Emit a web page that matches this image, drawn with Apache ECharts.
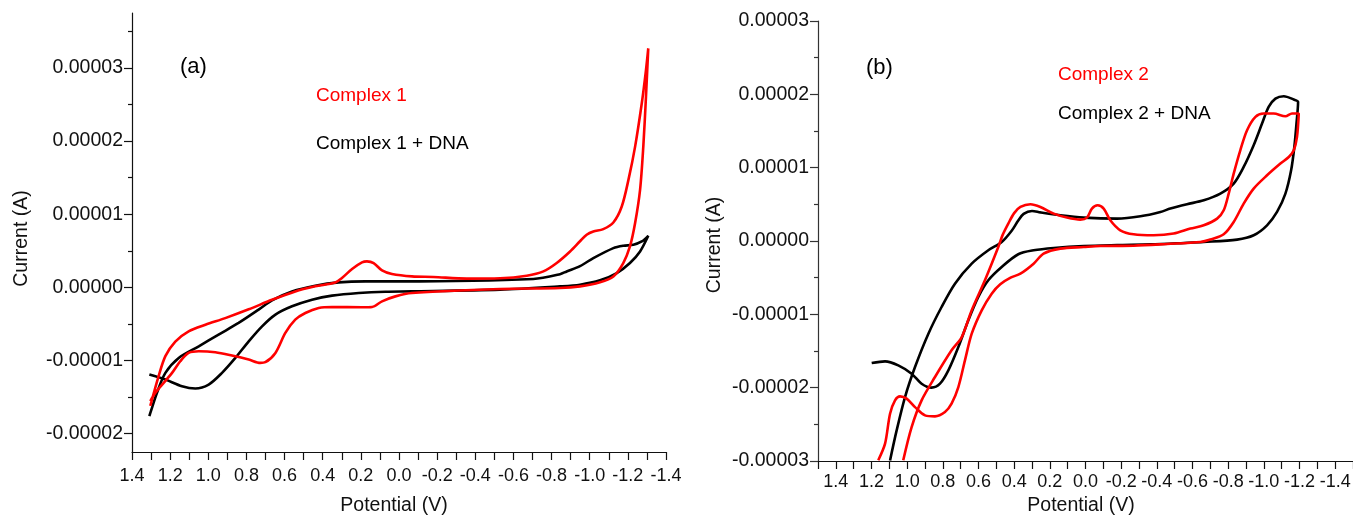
<!DOCTYPE html>
<html>
<head>
<meta charset="utf-8">
<title>Cyclic voltammograms</title>
<script src="https://cdn.jsdelivr.net/npm/echarts@6/dist/echarts.min.js"></script>
<style>
  html, body { margin: 0; padding: 0; background: #fff; }
  #main { width: 1353px; height: 515px; }
</style>
</head>
<body>
<div id="main"></div>
<script>
// [potential (V), current (A)] read along each scan loop
var complex1 = [
  [1.304,-1.62e-5],[1.26,-1.21e-5],[1.225,-0.94e-5],[1.173,-0.74e-5],[1.103,-0.60e-5],[1.015,-0.51e-5],
  [0.911,-0.42e-5],[0.788,-0.30e-5],[0.666,-0.17e-5],[0.544,-0.055e-5],[0.439,0.014e-5],[0.334,0.068e-5],
  [0.299,0.128e-5],[0.246,0.251e-5],[0.194,0.341e-5],[0.168,0.355e-5],[0.133,0.332e-5],[0.089,0.232e-5],
  [0.037,0.183e-5],[-0.068,0.15e-5],[-0.18,0.142e-5],[-0.355,0.12e-5],[-0.53,0.125e-5],[-0.67,0.16e-5],
  [-0.757,0.218e-5],[-0.827,0.333e-5],[-0.897,0.49e-5],[-0.949,0.63e-5],[-0.984,0.72e-5],[-1.019,0.764e-5],
  [-1.071,0.797e-5],[-1.124,0.887e-5],[-1.168,1.105e-5],[-1.203,1.469e-5],[-1.238,1.924e-5],[-1.273,2.516e-5],
  [-1.295,2.97e-5],[-1.307,3.266e-5],[-1.295,2.606e-5],[-1.281,1.924e-5],[-1.264,1.333e-5],[-1.238,0.879e-5],
  [-1.211,0.559e-5],[-1.176,0.333e-5],[-1.124,0.15e-5],[-1.054,0.07e-5],[-0.949,0.014e-5],[-0.844,-0.008e-5],
  [-0.53,-0.022e-5],[-0.068,-0.077e-5],[0.019,-0.123e-5],[0.089,-0.191e-5],[0.141,-0.268e-5],[0.194,-0.272e-5],
  [0.351,-0.268e-5],[0.421,-0.282e-5],[0.491,-0.35e-5],[0.544,-0.441e-5],[0.596,-0.623e-5],[0.648,-0.896e-5],
  [0.701,-1.023e-5],[0.727,-1.032e-5],[0.788,-0.987e-5],[0.876,-0.932e-5],[0.963,-0.887e-5],[1.05,-0.873e-5],
  [1.103,-0.896e-5],[1.147,-1.01e-5],[1.19,-1.169e-5],[1.234,-1.305e-5],[1.278,-1.442e-5],[1.304,-1.555e-5]
];
var complex1Dna = [
  [1.309,-1.191e-5],[1.225,-1.259e-5],[1.138,-1.351e-5],[1.068,-1.382e-5],[0.998,-1.328e-5],[0.928,-1.168e-5],
  [0.858,-0.964e-5],[0.788,-0.737e-5],[0.718,-0.532e-5],[0.648,-0.372e-5],[0.561,-0.259e-5],[0.456,-0.168e-5],
  [0.351,-0.113e-5],[0.211,-0.077e-5],[0.072,-0.059e-5],[-0.068,-0.055e-5],[-0.53,-0.031e-5],[-0.844,0.014e-5],
  [-0.949,0.037e-5],[-1.054,0.096e-5],[-1.142,0.196e-5],[-1.211,0.333e-5],[-1.264,0.491e-5],[-1.307,0.705e-5],
  [-1.273,0.628e-5],[-1.229,0.583e-5],[-1.176,0.569e-5],[-1.124,0.537e-5],[-1.019,0.40e-5],[-0.949,0.29e-5],
  [-0.879,0.218e-5],[-0.844,0.18e-5],[-0.704,0.115e-5],[-0.005,0.082e-5],[0.176,0.082e-5],[0.316,0.068e-5],
  [0.439,0.023e-5],[0.561,-0.055e-5],[0.666,-0.177e-5],[0.736,-0.304e-5],[0.841,-0.486e-5],[0.946,-0.645e-5],
  [1.05,-0.805e-5],[1.155,-0.964e-5],[1.225,-1.168e-5],[1.269,-1.441e-5],[1.309,-1.76e-5]
];
var complex2 = [
  [1.162,-2.99e-5],[1.124,-2.764e-5],[1.096,-2.355e-5],[1.068,-2.173e-5],[1.04,-2.119e-5],[1.003,-2.15e-5],
  [0.956,-2.265e-5],[0.9,-2.378e-5],[0.844,-2.392e-5],[0.788,-2.333e-5],[0.751,-2.219e-5],[0.713,-1.992e-5],
  [0.676,-1.628e-5],[0.638,-1.264e-5],[0.582,-0.945e-5],[0.526,-0.718e-5],[0.478,-0.59e-5],[0.42,-0.5e-5],
  [0.365,-0.445e-5],[0.291,-0.309e-5],[0.235,-0.172e-5],[0.141,-0.104e-5],[0.01,-0.082e-5],[-0.083,-0.068e-5],
  [-0.27,-0.064e-5],[-0.457,-0.041e-5],[-0.644,-0.014e-5],[-0.7,0.019e-5],[-0.775,0.091e-5],[-0.831,0.259e-5],
  [-0.887,0.51e-5],[-0.943,0.715e-5],[-1.018,0.896e-5],[-1.093,1.056e-5],[-1.14,1.146e-5],[-1.168,1.237e-5],
  [-1.186,1.419e-5],[-1.196,1.738e-5],[-1.158,1.738e-5],[-1.121,1.701e-5],[-1.055,1.738e-5],[-0.999,1.738e-5],
  [-0.953,1.692e-5],[-0.906,1.51e-5],[-0.868,1.237e-5],[-0.831,0.919e-5],[-0.803,0.646e-5],[-0.775,0.419e-5],
  [-0.738,0.305e-5],[-0.663,0.214e-5],[-0.588,0.169e-5],[-0.494,0.101e-5],[-0.382,0.078e-5],[-0.27,0.091e-5],
  [-0.195,0.146e-5],[-0.139,0.282e-5],[-0.102,0.442e-5],[-0.068,0.487e-5],[-0.036,0.442e-5],[-0.008,0.319e-5],
  [0.029,0.291e-5],[0.104,0.319e-5],[0.178,0.373e-5],[0.253,0.464e-5],[0.309,0.501e-5],[0.365,0.464e-5],
  [0.4,0.38e-5],[0.433,0.237e-5],[0.465,0.08e-5],[0.489,-0.082e-5],[0.564,-0.536e-5],[0.638,-0.945e-5],
  [0.694,-1.31e-5],[0.751,-1.491e-5],[0.844,-1.855e-5],[0.919,-2.173e-5],[0.975,-2.538e-5],[1.022,-2.99e-5]
];
var complex2Dna = [
  [1.199,-1.664e-5],[1.124,-1.641e-5],[1.05,-1.696e-5],[0.975,-1.809e-5],[0.919,-1.946e-5],[0.863,-2.0e-5],
  [0.816,-1.946e-5],[0.769,-1.764e-5],[0.713,-1.446e-5],[0.657,-1.082e-5],[0.601,-0.764e-5],[0.545,-0.536e-5],
  [0.47,-0.355e-5],[0.377,-0.181e-5],[0.291,-0.127e-5],[0.178,-0.095e-5],[0.01,-0.068e-5],[-0.177,-0.055e-5],
  [-0.364,-0.046e-5],[-0.551,-0.027e-5],[-0.663,-0.014e-5],[-0.85,0.019e-5],[-0.943,0.078e-5],[-1.018,0.214e-5],
  [-1.074,0.396e-5],[-1.121,0.646e-5],[-1.153,0.964e-5],[-1.171,1.282e-5],[-1.183,1.601e-5],[-1.192,1.896e-5],
  [-1.168,1.929e-5],[-1.112,1.974e-5],[-1.065,1.942e-5],[-1.027,1.828e-5],[-0.99,1.601e-5],[-0.943,1.306e-5],
  [-0.887,1.01e-5],[-0.831,0.783e-5],[-0.756,0.646e-5],[-0.663,0.555e-5],[-0.569,0.501e-5],[-0.476,0.442e-5],
  [-0.42,0.396e-5],[-0.308,0.337e-5],[-0.177,0.305e-5],[0.01,0.319e-5],[0.141,0.351e-5],[0.253,0.39e-5],
  [0.3,0.41e-5],[0.347,0.37e-5],[0.377,0.28e-5],[0.414,0.14e-5],[0.47,-0.014e-5],[0.545,-0.127e-5],
  [0.638,-0.309e-5],[0.732,-0.582e-5],[0.807,-0.9e-5],[0.881,-1.264e-5],[0.956,-1.719e-5],[1.012,-2.128e-5],
  [1.059,-2.583e-5],[1.096,-2.992e-5]
];

// tick labels
var xLabels = [1.4, 1.2, 1.0, 0.8, 0.6, 0.4, 0.2, 0.0, -0.2, -0.4, -0.6, -0.8, -1.0, -1.2, -1.4];
var yLabelsA = [-0.00002, -0.00001, 0, 0.00001, 0.00002, 0.00003];
var yMinorA = [-0.000015, -0.000005, 0.000005, 0.000015, 0.000025, 0.000035];

var FONT = "'Liberation Sans', Arial, Helvetica, sans-serif";
var INK = '#111';

function fmtV(v) { return Math.abs(v) < 1e-9 ? '0.0' : v.toFixed(1); }
function fmtA(v) { return Math.abs(v) < 1e-12 ? '0.00000' : v.toFixed(5); }

function xAxisFor(grid, min, max, margin, gap, pad) {
  return {
    type: 'value', gridIndex: grid, min: min, max: max, interval: 0.1, inverse: true,
    splitLine: { show: false },
    axisLine: { onZero: false, lineStyle: { color: INK, width: 1.2 } },
    axisTick: { length: 8, lineStyle: { color: INK, width: 1.2 } },
    axisLabel: { customValues: xLabels, formatter: fmtV, fontSize: 18, color: INK, margin: margin, fontFamily: FONT },
    name: 'Potential (V)', nameLocation: 'middle', nameGap: gap,
    nameTextStyle: { fontSize: 19.5, color: INK, fontFamily: FONT, padding: pad }
  };
}

var chart = echarts.init(document.getElementById('main'), null, { renderer: 'canvas' });

var option = {
  animation: false,
  backgroundColor: '#fff',
  grid: [
    { left: 132, top: 13, width: 534, height: 439, outerBoundsMode: 'none' },
    { left: 818, top: 21, width: 535, height: 440, outerBoundsMode: 'none' }
  ],
  xAxis: [
    xAxisFor(0, -1.4, 1.4, 15, 44, [0, 10, 0, 0]),
    xAxisFor(1, -1.5, 1.5, 12, 35, [0, 9, 0, 0])
  ],
  yAxis: [
    {
      type: 'value', gridIndex: 0, position: 'left', min: -2.25e-5, max: 3.75e-5,
      splitLine: { show: false },
      axisLine: { show: true, onZero: false, lineStyle: { color: INK, width: 1.2 } },
      axisTick: { show: true, length: 8, customValues: yLabelsA, lineStyle: { color: INK, width: 1.2 } },
      axisLabel: { customValues: yLabelsA, formatter: fmtA, fontSize: 19.5, color: INK, margin: 9, fontFamily: FONT },
      name: 'Current (A)', nameLocation: 'middle', nameGap: 100,
      nameTextStyle: { fontSize: 19.5, color: INK, fontFamily: FONT, padding: [0, 12, 0, 0] }
    },
    {
      type: 'value', gridIndex: 0, position: 'left', min: -2.25e-5, max: 3.75e-5,
      splitLine: { show: false },
      axisLine: { show: false, onZero: false },
      axisTick: { show: true, length: 4, customValues: yMinorA, lineStyle: { color: INK, width: 1.2 } },
      axisLabel: { show: false }
    },
    {
      type: 'value', gridIndex: 1, position: 'left', min: -3e-5, max: 3e-5, interval: 1e-5,
      splitLine: { show: false },
      axisLine: { show: true, onZero: false, lineStyle: { color: '#333', width: 1.2 } },
      axisTick: { length: 8, lineStyle: { color: '#333', width: 1.2 } },
      minorTick: { show: true, splitNumber: 2, length: 4, lineStyle: { color: '#333', width: 1.2 } },
      minorSplitLine: { show: false },
      axisLabel: { formatter: fmtA, fontSize: 19.5, color: INK, margin: 9, fontFamily: FONT },
      name: 'Current (A)', nameLocation: 'middle', nameGap: 93,
      nameTextStyle: { fontSize: 19.5, color: INK, fontFamily: FONT, padding: [0, 8, 0, 0] }
    }
  ],
  legend: [
    {
      left: 311, top: 86, orient: 'vertical', padding: 0, icon: 'none',
      itemWidth: 0, itemHeight: 20, itemGap: 28.5, selectedMode: false,
      textStyle: { fontSize: 19, fontFamily: FONT },
      data: [
        { name: 'Complex 1', textStyle: { color: '#ff0000' } },
        { name: 'Complex 1 + DNA', textStyle: { color: '#000' } }
      ]
    },
    {
      left: 1053, top: 65, orient: 'vertical', padding: 0, icon: 'none',
      itemWidth: 0, itemHeight: 20, itemGap: 19, selectedMode: false,
      textStyle: { fontSize: 19, fontFamily: FONT },
      data: [
        { name: 'Complex 2', textStyle: { color: '#ff0000' } },
        { name: 'Complex 2 + DNA', textStyle: { color: '#000' } }
      ]
    }
  ],
  graphic: [
    { type: 'text', x: 180, y: 67, style: { text: '(a)', font: '22px ' + FONT, fill: '#000', textVerticalAlign: 'middle' } },
    { type: 'text', x: 866, y: 68, style: { text: '(b)', font: '22px ' + FONT, fill: '#000', textVerticalAlign: 'middle' } }
  ],
  series: [
    { name: 'Complex 1 + DNA', type: 'line', xAxisIndex: 0, yAxisIndex: 0, data: complex1Dna,
      showSymbol: false, smooth: 0.3, lineStyle: { color: '#000', width: 2.6 }, itemStyle: { color: '#000' } },
    { name: 'Complex 1', type: 'line', xAxisIndex: 0, yAxisIndex: 0, data: complex1,
      showSymbol: false, smooth: 0.3, lineStyle: { color: '#ff0000', width: 2.6 }, itemStyle: { color: '#ff0000' } },
    { name: 'Complex 2 + DNA', type: 'line', xAxisIndex: 1, yAxisIndex: 2, data: complex2Dna,
      showSymbol: false, smooth: 0.3, lineStyle: { color: '#000', width: 2.6 }, itemStyle: { color: '#000' } },
    { name: 'Complex 2', type: 'line', xAxisIndex: 1, yAxisIndex: 2, data: complex2,
      showSymbol: false, smooth: 0.3, lineStyle: { color: '#ff0000', width: 2.6 }, itemStyle: { color: '#ff0000' } }
  ]
};

chart.setOption(option);
</script>
</body>
</html>
